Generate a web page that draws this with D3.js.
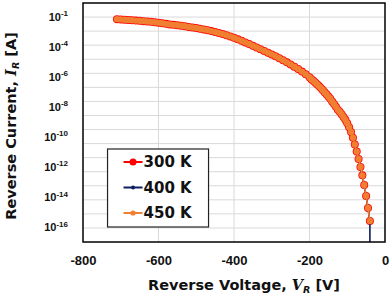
<!DOCTYPE html>
<html>
<head>
<meta charset="utf-8">
<script src="https://cdn.jsdelivr.net/npm/d3@7"></script>
<style>
  body { margin: 0; background: #fff; }
  svg { display: block; font-family: "DejaVu Sans", Verdana, sans-serif; font-weight: bold; }
</style>
</head>
<body>
<svg id="chart" width="392" height="297"></svg>
<script>
// reverse voltage sweep (V)
const voltage = [
  -710, -700, -690, -680, -670, -660, -650, -640, -630, -620, -610, -600,
  -590, -580, -570, -560, -550, -540, -530, -520, -510, -500,
  -490, -480, -470, -460, -450, -440, -430, -420, -410, -400,
  -390, -380, -370, -360, -350, -340, -330, -320, -310, -300,
  -290, -280, -270, -260, -250, -240, -230, -220, -210, -200,
  -195, -190, -185, -180, -175, -170, -165, -160, -155, -150,
  -145, -140, -135, -130, -125, -120, -115, -110, -105, -100,
  -95, -90, -85, -80, -75, -70, -65, -60, -55, -50, -45, -40
];

// reverse current (A); the three temperatures sit on top of each other
const current300 = [
  7.1e-2, 6.8e-2, 6.5e-2, 6.2e-2, 5.9e-2, 5.6e-2, 5.4e-2, 5.1e-2, 4.8e-2, 4.6e-2, 4.3e-2, 4.0e-2,
  3.6e-2, 3.3e-2, 3.0e-2, 2.8e-2, 2.6e-2, 2.4e-2, 2.2e-2, 2.0e-2, 1.82e-2, 1.66e-2,
  1.48e-2, 1.32e-2, 1.15e-2, 1.0e-2, 8.7e-3, 7.4e-3, 6.2e-3, 5.1e-3, 4.2e-3, 3.4e-3,
  2.6e-3, 2.04e-3, 1.58e-3, 1.2e-3, 9.1e-4, 6.9e-4, 5.2e-4, 3.9e-4, 2.95e-4, 2.2e-4,
  1.62e-4, 1.17e-4, 8.5e-5, 6.0e-5, 4.3e-5, 2.95e-5, 2.0e-5, 1.32e-5, 8.5e-6, 5.2e-6,
  3.8e-6, 2.9e-6, 2.2e-6, 1.66e-6, 1.23e-6, 9.1e-7, 6.5e-7, 4.5e-7, 3.2e-7, 2.2e-7,
  1.55e-7, 1.0e-7, 6.5e-8, 4.1e-8, 2.6e-8, 1.84e-8, 1.23e-8, 7.9e-9, 4.9e-9, 2.8e-9,
  1.48e-9, 6.8e-10, 2.6e-10, 8.7e-11, 2.75e-11, 8.1e-12, 2.2e-12, 5.5e-13, 1.15e-13, 1.86e-14, 2.6e-15, 3.1e-16
];
const current400 = current300.slice();
const current450 = current300.slice();
// 400 K has one more reading at -40 V that falls below the axis
const tail400 = [[-40, 1e-19]];

const seriesNames = ['300 K', '400 K', '450 K'];
const xTicks = [-800, -600, -400, -200, 0];
const yTickExponents = [-1, -4, -6, -8, -10, -12, -14, -16];

const series = [
  { name: seriesNames[0], color: '#ff0000', r: 4, lw: 1.5,
    pts: voltage.map((v, i) => [v, current300[i]]) },
  { name: seriesNames[1], color: '#0c1f5e', r: 1.6, lw: 1.6,
    pts: voltage.map((v, i) => [v, current400[i]]).concat(tail400) },
  { name: seriesNames[2], color: '#f07f32', r: 3.2, lw: 1.6,
    pts: voltage.map((v, i) => [v, current450[i]]) },
];

const margin = { top: 3, right: 7, bottom: 55, left: 83 };
const W = 392, H = 297;
const w = W - margin.left - margin.right;
const h = H - margin.top - margin.bottom;

const svg = d3.select('#chart');
const g = svg.append('g').attr('transform', `translate(${margin.left},${margin.top})`);

const x = d3.scaleLinear().domain([-800, 0]).range([0, w]);
const y = d3.scaleLog().domain([1e-17, 1]).range([h, 0]);

svg.append('defs').append('clipPath').attr('id', 'plot')
  .append('rect').attr('width', w).attr('height', h);

// grid
g.append('g').selectAll('line.h')
  .data(d3.range(-16, 0).map(e => Math.pow(10, e)))
  .join('line')
  .attr('x1', 0).attr('x2', w)
  .attr('y1', d => y(d)).attr('y2', d => y(d))
  .attr('stroke', '#d9d9d9').attr('stroke-width', 1);
g.append('g').selectAll('line.v')
  .data(xTicks.slice(1, -1))
  .join('line')
  .attr('x1', d => x(d)).attr('x2', d => x(d))
  .attr('y1', 0).attr('y2', h)
  .attr('stroke', '#d9d9d9').attr('stroke-width', 1);

// x axis
const xAxis = g.append('g').attr('transform', `translate(0,${h})`)
  .call(d3.axisBottom(x).tickValues(xTicks).tickSize(0).tickPadding(14).tickFormat(d => String(d)));
xAxis.select('.domain').remove();
xAxis.selectAll('text').attr('font-size', 13).attr('font-family', null).attr('font-weight', 'bold').attr('fill', '#111');

// y labels: in the source they are evenly spaced text boxes between 10^-1 and 10^-16
const yLab = d3.scalePoint().domain(yTickExponents).range([y(1e-1) - 0.5, y(1e-16) - 1]);
const yAxis = g.append('g')
  .call(d3.axisLeft(yLab).tickSize(0).tickPadding(15).tickFormat(() => ''));
yAxis.select('.domain').remove();
yAxis.selectAll('.tick text').each(function (d) {
  const t = d3.select(this)
    .attr('font-size', 11).attr('font-family', null).attr('font-weight', 'bold').attr('fill', '#111');
  t.append('tspan').text('10');
  t.append('tspan').attr('font-size', 8).attr('dy', '-0.55em').text(String(d));
});

// data
const line = d3.line().x(d => x(d[0])).y(d => y(d[1]));
const dataG = g.append('g').attr('clip-path', 'url(#plot)');
series.forEach(s => {
  dataG.append('path').datum(s.pts)
    .attr('d', line).attr('fill', 'none')
    .attr('stroke', s.color).attr('stroke-width', s.lw);
  dataG.append('g').selectAll('circle')
    .data(s.pts.filter(p => p[1] > 1e-17))
    .join('circle')
    .attr('cx', d => x(d[0])).attr('cy', d => y(d[1]))
    .attr('r', s.r).attr('fill', s.color);
});

// frame
g.append('rect').attr('width', w).attr('height', h)
  .attr('fill', 'none').attr('stroke', '#000').attr('stroke-width', 1.5);

// legend
const lg = g.append('g').attr('transform', `translate(${x(-735)},146)`);
lg.append('rect').attr('width', 101).attr('height', 78)
  .attr('fill', '#fff').attr('stroke', '#222').attr('stroke-width', 1.2);
series.forEach((s, i) => {
  const row = lg.append('g').attr('transform', `translate(0,${13 + i * 25.5})`);
  row.append('line').attr('x1', 16).attr('x2', 35).attr('stroke', s.color).attr('stroke-width', 2);
  row.append('circle').attr('cx', 25.5).attr('r', i === 0 ? 3.5 : (i === 1 ? 2 : 2.6)).attr('fill', s.color);
  row.append('text').attr('x', 36).attr('dy', '0.36em')
    .attr('font-size', 15).attr('fill', '#111').text(s.name);
});

// axis titles
const xt = svg.append('text')
  .attr('x', 244).attr('y', 290)
  .attr('text-anchor', 'middle').attr('font-size', 14.5).attr('fill', '#111');
xt.append('tspan').text('Reverse Voltage, ');
xt.append('tspan').attr('font-family', '"DejaVu Serif", serif').attr('font-style', 'italic').text('V');
xt.append('tspan').attr('font-size', 9.5).attr('dy', 3).attr('font-style', 'italic').text('R');
xt.append('tspan').attr('dy', -3).text(' [V]');

const yt = svg.append('text')
  .attr('transform', `translate(16,126) rotate(-90)`)
  .attr('text-anchor', 'middle').attr('font-size', 14.5).attr('fill', '#111');
yt.append('tspan').text('Reverse Current, ');
yt.append('tspan').attr('font-family', '"DejaVu Serif", serif').attr('font-style', 'italic').text('I');
yt.append('tspan').attr('font-size', 9.5).attr('dy', 3).attr('font-style', 'italic').text('R');
yt.append('tspan').attr('dy', -3).text(' [A]');
</script>
</body>
</html>
